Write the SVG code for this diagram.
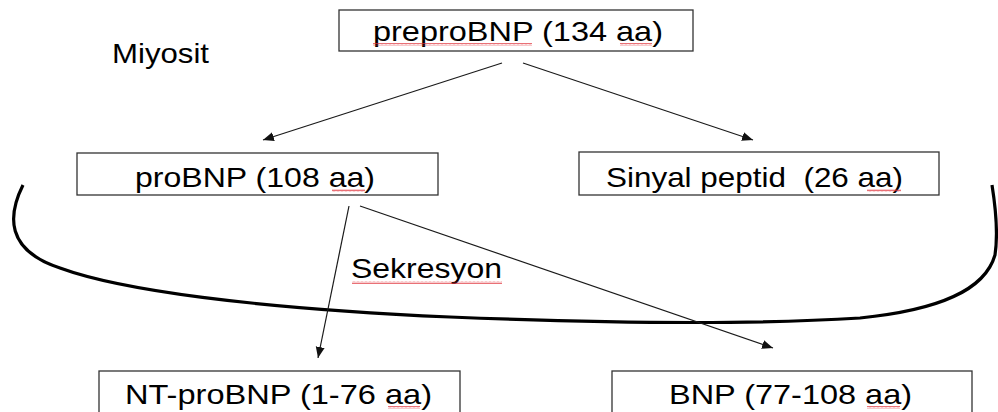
<svg xmlns="http://www.w3.org/2000/svg" width="998" height="412" viewBox="0 0 998 412">
<defs>
<marker id="ah" markerUnits="userSpaceOnUse" markerWidth="12" markerHeight="10" refX="11" refY="4.5" orient="auto">
<path d="M0,0 L11,4.5 L0,9 Z" fill="#111"/>
</marker>
<pattern id="sq" width="4" height="3" patternUnits="userSpaceOnUse">
<path d="M0,2.4 L1,0.6 L2,2.4 L3,0.6 L4,2.4" fill="none" stroke="#e0303a" stroke-width="0.7"/>
</pattern>
</defs>
<style>
.box{fill:#fff;stroke:#333;stroke-width:1.3}
.t{font-family:"Liberation Sans",Arial,sans-serif;font-size:28px;fill:#000;white-space:pre}
.c{fill:none;stroke:#1a1a1a;stroke-width:1.2}
.sq{fill:url(#sq)}
</style>
<rect width="998" height="412" fill="#fff"/>

<g id="curve">
<path d="M23,185 C8,215 5,250 60,268 C120,290 250,308 450,317 C600,323 750,325 860,318 C940,310 985,290 995,255 C998,235 996,210 992,185" fill="none" stroke="#000" stroke-width="3.2"/>
</g>

<g id="connectors">
<line class="c" x1="502" y1="63" x2="263" y2="140" marker-end="url(#ah)"/>
<line class="c" x1="523" y1="63" x2="753" y2="140" marker-end="url(#ah)"/>
<line class="c" x1="349" y1="206" x2="318" y2="358" marker-end="url(#ah)"/>
<line class="c" x1="360" y1="206" x2="773" y2="348" marker-end="url(#ah)"/>
</g>

<g id="miyosit">
<text class="t" x="112" y="63" textLength="97" lengthAdjust="spacingAndGlyphs">Miyosit</text>
</g>

<g id="sekresyon">
<text class="t" x="351" y="278" textLength="151" lengthAdjust="spacingAndGlyphs">Sekresyon</text>
<rect class="sq" x="352" y="281" width="150" height="3"/>
</g>

<g id="preproBNP">
<rect class="box" x="339" y="10" width="354" height="41"/>
<text class="t" x="373" y="41" textLength="290" lengthAdjust="spacingAndGlyphs">preproBNP (134 aa)</text>
<rect class="sq" x="373" y="43" width="159" height="3"/>
<rect class="sq" x="620" y="43" width="32" height="3"/>
</g>

<g id="proBNP">
<rect class="box" x="77" y="153" width="361" height="42"/>
<text class="t" x="135" y="187" textLength="240" lengthAdjust="spacingAndGlyphs">proBNP (108 aa)</text>
<rect class="sq" x="332" y="189" width="33" height="3"/>
</g>

<g id="sinyal">
<rect class="box" x="579" y="152" width="360" height="43"/>
<text class="t" x="606" y="187" textLength="297" lengthAdjust="spacingAndGlyphs" xml:space="preserve">Sinyal peptid  (26 aa)</text>
<rect class="sq" x="867" y="189" width="34" height="3"/>
</g>

<g id="ntprobnp">
<rect class="box" x="99" y="371" width="361" height="50"/>
<text class="t" x="125" y="404" textLength="307" lengthAdjust="spacingAndGlyphs">NT-proBNP (1-76 aa)</text>
<rect class="sq" x="388" y="406" width="32" height="3"/>
</g>

<g id="bnp">
<rect class="box" x="612" y="371" width="360" height="50"/>
<text class="t" x="669" y="404" textLength="243" lengthAdjust="spacingAndGlyphs">BNP (77-108 aa)</text>
<rect class="sq" x="867" y="406" width="33" height="3"/>
</g>
</svg>
